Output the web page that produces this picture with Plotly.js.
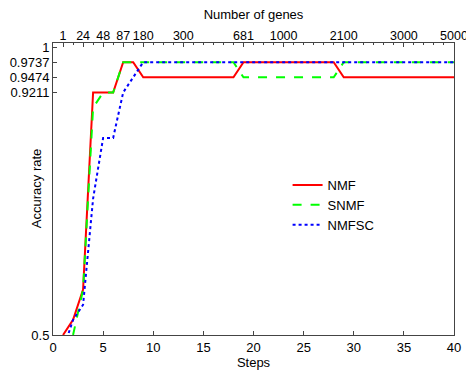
<!DOCTYPE html>
<html><head><meta charset="utf-8">
<script src="https://cdn.plot.ly/plotly-3.0.1.min.js"></script>
<style>html,body{margin:0;padding:0;background:#fff}#c{width:466px;height:371px}</style>
</head><body><div id="c"></div>
<script>
const steps = [1,2,3,4,5,6,7,8,9,10,11,12,13,14,15,16,17,18,19,20,21,22,23,24,25,26,27,28,29,30,31,32,33,34,35,36,37,38,39,40];
const nmf   = [0.5,0.5263,0.5789,0.9211,0.9211,0.9211,0.9737,0.9737,0.9474,0.9474,0.9474,0.9474,0.9474,0.9474,0.9474,0.9474,0.9474,0.9474,0.9737,0.9737,0.9737,0.9737,0.9737,0.9737,0.9737,0.9737,0.9737,0.9737,0.9474,0.9474,0.9474,0.9474,0.9474,0.9474,0.9474,0.9474,0.9474,0.9474,0.9474,0.9474];
const snmf  = [0.4737,0.5,0.5789,0.8947,0.9211,0.9211,0.9737,0.9737,0.9737,0.9737,0.9737,0.9737,0.9737,0.9737,0.9737,0.9737,0.9737,0.9737,0.9474,0.9474,0.9474,0.9474,0.9474,0.9474,0.9474,0.9474,0.9474,0.9474,0.9737,0.9737,0.9737,0.9737,0.9737,0.9737,0.9737,0.9737,0.9737,0.9737,0.9737,0.9737];
const nmfsc = [0.4737,0.5263,0.5526,0.7368,0.8421,0.8421,0.9211,0.9474,0.9737,0.9737,0.9737,0.9737,0.9737,0.9737,0.9737,0.9737,0.9737,0.9737,0.9737,0.9737,0.9737,0.9737,0.9737,0.9737,0.9737,0.9737,0.9737,0.9737,0.9737,0.9737,0.9737,0.9737,0.9737,0.9737,0.9737,0.9737,0.9737,0.9737,0.9737,0.9737];
const geneTickSteps = [1,3,5,7,9,13,19,23,29,35,40];
const geneTickLabels = ['1','24','48','87','180','300','681','1000','2100','3000','5000'];
const yTickVals = [0.5,0.9211,0.9474,0.9737,1];
const yTickText = ['0.5','0.9211','0.9474','0.9737','1'];

const FONT = 'Liberation Sans, Arial, sans-serif';
const traces = [
  {x: steps, y: nmf, name: 'NMF', mode: 'lines', line: {color: '#ff0000', width: 2}},
  {x: steps, y: snmf, name: 'SNMF', mode: 'lines', line: {color: '#00ff00', width: 2, dash: 'dash'}},
  {x: steps, y: nmfsc, name: 'NMFSC', mode: 'lines', line: {color: '#0000ff', width: 2, dash: 'dot'}},
  {x: [geneTickSteps[0]], y: [0.5], xaxis: 'x2', mode: 'markers', marker: {opacity: 0}, showlegend: false, hoverinfo: 'skip'}
];
const layout = {
  width: 466, height: 371,
  margin: {l: 53, r: 12, t: 43, b: 36},
  paper_bgcolor: '#fff', plot_bgcolor: '#fff',
  font: {family: FONT, size: 13, color: '#000'},
  showlegend: true,
  legend: {x: 0.585, y: 0.565, xanchor: 'left', yanchor: 'top', bgcolor: 'rgba(0,0,0,0)', font: {size: 13, family: FONT}, tracegroupgap: 0},
  xaxis: {
    range: [0, 40], tickvals: [0,5,10,15,20,25,30,35,40], ticks: 'inside', ticklen: 4, tickcolor: '#444',
    showline: true, linecolor: '#444', linewidth: 1, mirror: true, showgrid: false, zeroline: false,
    title: {text: 'Steps', font: {size: 13, family: FONT}, standoff: 2}, tickfont: {size: 13}
  },
  xaxis2: {
    overlaying: 'x', side: 'top', range: [0, 40], tickvals: geneTickSteps, ticktext: geneTickLabels,
    ticks: 'inside', ticklen: 4, tickcolor: '#444', showgrid: false, zeroline: false, showline: false,
    ticklabeloverflow: 'allow', tickangle: 0,
    minor: {dtick: 1, tick0: 0, ticks: 'inside', ticklen: 2, tickcolor: '#444', showgrid: false},
    title: {text: 'Number of genes', font: {size: 13, family: FONT}, standoff: 5}, tickfont: {size: 12.5}
  },
  yaxis: {
    range: [0.5, 1.007], tickvals: yTickVals, ticktext: yTickText, ticks: 'inside', ticklen: 4, tickcolor: '#444',
    showline: true, linecolor: '#444', linewidth: 1, mirror: true, showgrid: false, zeroline: false,
    tickfont: {size: 13}
  },
  annotations: [
    {text: 'Accuracy rate', textangle: -90, xref: 'paper', yref: 'paper', x: -0.042, y: 0.5, xanchor: 'center', yanchor: 'middle', showarrow: false, font: {size: 13, family: FONT}}
  ]
};
Plotly.newPlot('c', traces, layout, {displayModeBar: false, staticPlot: true});
</script></body></html>
